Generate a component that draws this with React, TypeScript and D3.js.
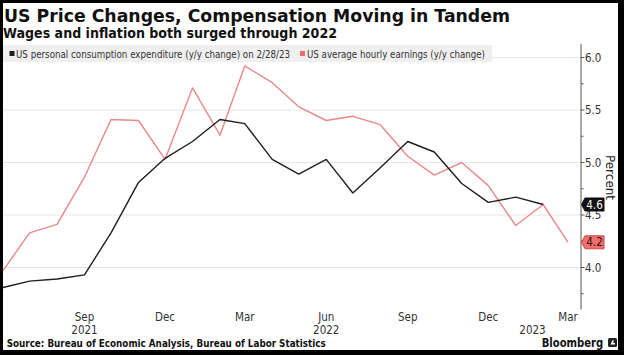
import React from "react";
import * as d3 from "d3";

const startMonth = new Date(2021, 5, 1);
const endMonth = new Date(2023, 2, 1);
const pceValues = [3.81, 3.87, 3.89, 3.93, 4.33, 4.81, 5.04, 5.2, 5.41, 5.37, 5.03, 4.89, 5.03, 4.71, 4.95, 5.2, 5.1, 4.8, 4.62, 4.67, 4.6];
const aheValues = [3.97, 4.33, 4.41, 4.86, 5.41, 5.4, 5.03, 5.71, 5.26, 5.92, 5.76, 5.53, 5.4, 5.44, 5.36, 5.06, 4.88, 5.0, 4.78, 4.4, 4.6, 4.24];
const yTicks = [4.0, 4.5, 5.0, 5.5, 6.0];
const yMinorTicks = [3.75, 4.25, 4.75, 5.25, 5.75];
const pceLabel = "4.6";
const aheLabel = "4.2";
const legendPce = "US personal consumption expenditure (y/y change) on 2/28/23";
const legendAhe = "US average hourly earnings (y/y change)";
const title = "US Price Changes, Compensation Moving in Tandem";
const subtitle = "Wages and inflation both surged through 2022";
const source = "Source: Bureau of Economic Analysis, Bureau of Labor Statistics";

const months = d3.timeMonth.range(startMonth, d3.timeMonth.offset(endMonth, 1));
const BLACK = "#1e1e1e";
const RED = "#e8888a";
const COND = "'DejaVu Sans Condensed', 'DejaVu Sans', sans-serif";

export default function App() {
  const x = d3.scaleTime().domain([startMonth, endMonth]).range([3, 568]);
  const y = d3.scaleLinear().domain([4, 6]).range([267.5, 57.5]);
  const axisX = 581;

  const pceData = pceValues.map((v, i) => ({ d: months[i], v }));
  const aheData = aheValues.map((v, i) => ({ d: months[i], v }));
  const line = d3
    .line<{ d: Date; v: number }>()
    .x((p) => x(p.d))
    .y((p) => y(p.v));

  const monthTicks = months.filter((m) => m.getMonth() % 3 === 2 && x(m) > 30);
  const fmtMonth = d3.timeFormat("%b");

  const yearLabels = [
    { t: "2021", xp: x(new Date(2021, 8, 1)) },
    { t: "2022", xp: x(new Date(2022, 5, 1)) },
    { t: "2023", xp: (x(new Date(2023, 0, 1)) + x(new Date(2023, 1, 1))) / 2 + 3 },
  ];

  const lastPce = pceData[pceData.length - 1];
  const lastAhe = aheData[aheData.length - 1];

  const tag = (yc: number) =>
    `M${axisX + 0.5},${yc} L${axisX + 4},${yc - 6.5} L${axisX + 23},${yc - 6.5} L${axisX + 23},${yc + 6.5} L${axisX + 4},${yc + 6.5} Z`;

  return (
    <svg
      width={624}
      height={355}
      style={{ position: "absolute", left: 0, top: 0, background: "#fff" }}
    >
      <rect x={0} y={0} width={624} height={355} fill="#000" />
      <rect x={3} y={3} width={615} height={347} fill="#fff" />

      {/* title */}
      <text x={4} y={21.7} fontFamily="'DejaVu Sans', sans-serif" fontWeight="bold" fontSize={17} fill="#111" textLength={506} lengthAdjust="spacingAndGlyphs">
        {title}
      </text>
      <text x={3} y={38.3} fontFamily="'DejaVu Sans', sans-serif" fontWeight="bold" fontSize={13.2} fill="#111" textLength={334} lengthAdjust="spacingAndGlyphs">
        {subtitle}
      </text>

      {/* gridlines */}
      {yTicks.map((t) => (
        <line key={t} x1={3} x2={axisX} y1={y(t)} y2={y(t)} stroke="#e6e6e6" strokeWidth={1} />
      ))}

      {/* legend */}
      <rect x={3} y={45} width={489} height={17} fill="#efefef" />
      <rect x={9.5} y={51} width={5} height={5} fill={BLACK} />
      <text x={16} y={57.5} fontFamily={COND} fontSize={10.5} fill="#333" textLength={274} lengthAdjust="spacingAndGlyphs">
        {legendPce}
      </text>
      <rect x={300} y={51} width={5} height={5} fill="#f06a6a" />
      <text x={307} y={57.5} fontFamily={COND} fontSize={10.5} fill="#333" textLength={178} lengthAdjust="spacingAndGlyphs">
        {legendAhe}
      </text>

      {/* lines */}
      <path d={line(aheData) || ""} fill="none" stroke={RED} strokeWidth={1.4} strokeLinejoin="round" />
      <path d={line(pceData) || ""} fill="none" stroke={BLACK} strokeWidth={1.4} strokeLinejoin="round" />

      {/* y axis */}
      <line x1={axisX} x2={axisX} y1={y(6.13)} y2={y(3.6)} stroke="#555" strokeWidth={1} />
      {yTicks.map((t) => (
        <g key={t}>
          <line x1={axisX} x2={axisX + 3.5} y1={y(t)} y2={y(t)} stroke="#555" />
          <text x={axisX + 4} y={y(t) + 4} fontFamily={COND} fontSize={11.5} fill="#333">
            {t.toFixed(1)}
          </text>
        </g>
      ))}
      {yMinorTicks.map((t) => (
        <line key={t} x1={axisX} x2={axisX + 2.5} y1={y(t)} y2={y(t)} stroke="#555" />
      ))}
      <text
        transform={`translate(606,177.5) rotate(90)`}
        textAnchor="middle"
        fontFamily="'DejaVu Sans', sans-serif"
        fontSize={12}
        fill="#222"
      >
        Percent
      </text>

      {/* end tags */}
      <path d={tag(y(lastPce.v))} fill="#111" stroke="#111" />
      <text x={axisX + 13.5} y={y(lastPce.v) + 4} textAnchor="middle" fontFamily={COND} fontSize={11.5} fill="#fff">
        {pceLabel}
      </text>
      <path d={tag(y(lastAhe.v))} fill="#f07070" stroke="#c84848" />
      <text x={axisX + 13.5} y={y(lastAhe.v) + 4} textAnchor="middle" fontFamily={COND} fontSize={11.5} fill="#3a0c0c">
        {aheLabel}
      </text>

      {/* x axis labels */}
      {monthTicks.map((m) => (
        <text key={+m} x={x(m)} y={320.7} textAnchor="middle" fontFamily={COND} fontSize={11.5} fill="#333">
          {fmtMonth(m)}
        </text>
      ))}
      {yearLabels.map((l) => (
        <text key={l.t} x={l.xp} y={334} textAnchor="middle" fontFamily={COND} fontSize={11.5} fill="#333">
          {l.t}
        </text>
      ))}

      {/* footer */}
      <text x={6.7} y={346.7} fontFamily={COND} fontWeight="bold" fontSize={10.5} fill="#111" textLength={319} lengthAdjust="spacingAndGlyphs">
        {source}
      </text>
      <text x={541.7} y={346.7} fontFamily="'DejaVu Sans', sans-serif" fontWeight="bold" fontSize={11.5} fill="#111" textLength={61.6} lengthAdjust="spacingAndGlyphs">
        Bloomberg
      </text>
      <rect x={608} y={338} width={9} height={9} rx={1.5} fill="#222" />
      <path d="M610.5,344.5 L612.5,340 L613.5,340 L613.5,343 L615,343 L615,344.5 Z" fill="#fff" />
    </svg>
  );
}
